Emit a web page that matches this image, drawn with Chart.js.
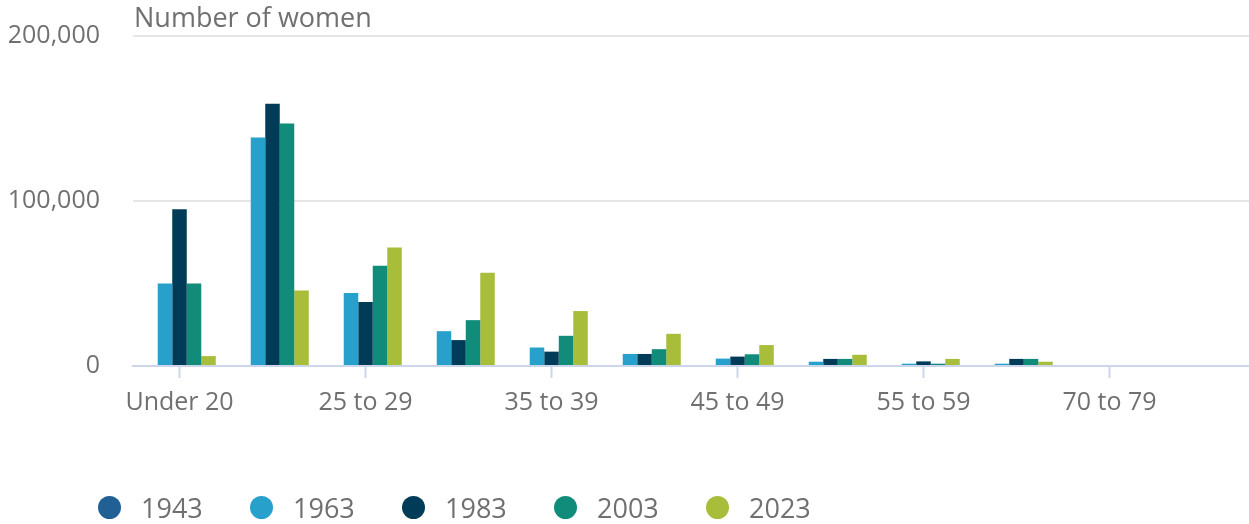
<!DOCTYPE html>
<html>
<head>
<meta charset="utf-8">
<script src="https://cdn.jsdelivr.net/npm/chart.js@4"></script>
<style>
  html, body { margin: 0; padding: 0; background: #fff; }
  #wrap { position: relative; width: 1249px; height: 524px; }
  #legend { position: absolute; left: 98px; top: 492px; display: flex; font-family: "Open Sans"; font-size: 27px; color: #707070; }
  .item { display: flex; align-items: center; width: 152px; height: 30px; }
  .dot { width: 23px; height: 23px; border-radius: 50%; margin-right: 20px; }
</style>
</head>
<body>
<div id="wrap">
  <canvas id="chart" width="1249" height="524"></canvas>
  <div id="legend"></div>
</div>
<script>
// age groups along the x axis
const ageGroups = ['Under 20', '20 to 24', '25 to 29', '30 to 34', '35 to 39', '40 to 44',
  '45 to 49', '50 to 54', '55 to 59', '60 to 69', '70 to 79', '80 and over'];
const years = ['1943', '1963', '1983', '2003', '2023'];
const colors = ['#206095', '#27a0cc', '#003c57', '#118c7b', '#a8bd3a'];

// number of women per age group, one array per year
const women1943 = [null, null, null, null, null, null, null, null, null, null, null, null];
const women1963 = [50000, 138500, 44300, 21100, 11200, 7300, 4500, 2600, 1400, 1400, 0, 0];
const women1983 = [95000, 159000, 38800, 15700, 8700, 7300, 5700, 4300, 2800, 4300, 0, 0];
const women2003 = [50000, 147000, 60800, 27800, 18300, 10200, 7100, 4300, 1400, 4300, 0, 0];
const women2023 = [6000, 45700, 71800, 56500, 33300, 19500, 12700, 6800, 4300, 2600, 0, 0];
const yTicks = [0, 100000, 200000];

const seriesData = [women1943, women1963, women1983, women2003, women2023];
const textColor = '#707070';
const font = 'Open Sans';

const axisTitle = {
  id: 'axisTitle',
  afterDraw(chart) {
    const ctx = chart.ctx;
    ctx.save();
    ctx.font = '27px "Open Sans"';
    ctx.fillStyle = textColor;
    ctx.textBaseline = 'middle';
    ctx.textAlign = 'left';
    ctx.fillText('Number of women', chart.chartArea.left + 1, 19);
    ctx.restore();
  }
};

new Chart(document.getElementById('chart'), {
  type: 'bar',
  data: {
    labels: ageGroups,
    datasets: years.map((y, i) => ({
      label: y,
      data: seriesData[i],
      backgroundColor: colors[i],
      borderWidth: 0,
      barPercentage: 1,
      categoryPercentage: 0.78
    }))
  },
  options: {
    responsive: false,
    animation: false,
    layout: { padding: { top: 36, right: 0, bottom: 96, left: 0 } },
    plugins: { legend: { display: false }, tooltip: { enabled: false } },
    scales: {
      x: {
        grid: {
          offset: false,
          drawOnChartArea: false,
          drawTicks: true,
          tickLength: 12,
          tickWidth: 2,
          tickColor: c => (c.index % 2 === 0 ? '#ccd6eb' : 'rgba(0,0,0,0)')
        },
        border: { display: true, color: '#ccd6eb', width: 2 },
        ticks: {
          autoSkip: false,
          maxRotation: 0,
          padding: 10,
          color: textColor,
          font: { family: font, size: 25 },
          callback: function (v, i) { return i % 2 === 0 ? this.getLabelForValue(v) : ''; }
        }
      },
      y: {
        min: 0,
        max: 200000,
        afterBuildTicks: s => { s.ticks = yTicks.map(v => ({ value: v })); },
        afterFit: s => { s.width = 133; s.paddingTop = 0; s.paddingBottom = 0; },
        grid: {
          drawTicks: false,
          color: c => (c.tick && c.tick.value === 0 ? 'rgba(0,0,0,0)' : '#e6e6e6'),
          lineWidth: 2
        },
        border: { display: false },
        ticks: {
          padding: 33,
          color: textColor,
          font: { family: font, size: 25 },
          callback: v => v.toLocaleString('en-GB')
        }
      }
    }
  },
  plugins: [axisTitle]
});

// legend
const legend = document.getElementById('legend');
years.forEach((y, i) => {
  const item = document.createElement('div');
  item.className = 'item';
  item.innerHTML = '<span class="dot" style="background:' + colors[i] + '"></span><span>' + y + '</span>';
  legend.appendChild(item);
});
</script>
</body>
</html>
